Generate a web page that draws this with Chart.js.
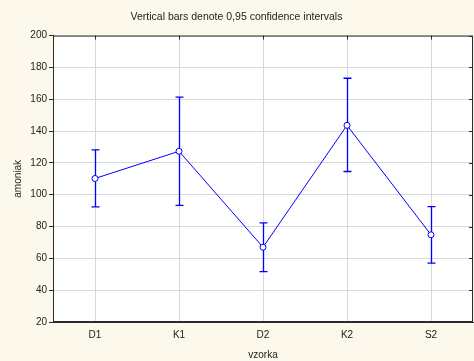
<!DOCTYPE html>
<html>
<head>
<meta charset="utf-8">
<script src="https://cdn.jsdelivr.net/npm/chart.js@4/dist/chart.umd.min.js"></script>
<style>
    html, body { margin: 0; padding: 0; background: #fdf8ec; }
    #wrap { width: 474px; height: 361px; }
</style>
</head>
<body>
<div id="wrap"><canvas id="c"></canvas></div>
<script>
// data
var categories = ['D1', 'K1', 'D2', 'K2', 'S2'];
var means = [110.2, 127.3, 67.0, 143.6, 74.8];
var upper = [128.2, 161.3, 82.3, 173.2, 92.5];
var lower = [92.3, 93.3, 51.6, 114.6, 57.0];
var yTicks = [20, 40, 60, 80, 100, 120, 140, 160, 180, 200];

var blue = '#0000ff';
var frameColor = '#2a2a2a';
var fontFamily = 'Arial, "Liberation Sans", sans-serif';

// fond + zone blanche + cadre
var backgroundPlugin = {
    id: 'bg',
    beforeDraw: function (chart) {
        var ctx = chart.ctx;
        var a = chart.chartArea;
        ctx.save();
        ctx.fillStyle = '#fdf8ec';
        ctx.fillRect(0, 0, chart.width, chart.height);
        ctx.fillStyle = '#ffffff';
        ctx.fillRect(a.left, a.top, a.right - a.left, a.bottom - a.top);
        ctx.restore();
    },
    afterDraw: function (chart) {
        var ctx = chart.ctx;
        var a = chart.chartArea;
        var x = chart.scales.x;
        var y = chart.scales.y;
        var i, p;
        ctx.save();
        ctx.strokeStyle = frameColor;
        ctx.lineWidth = 1;
        ctx.strokeRect(a.left + 0.5, a.top + 0.5, a.right - a.left - 1, a.bottom - a.top - 1);
        // petits traits internes en haut et a droite
        ctx.beginPath();
        for (i = 0; i < categories.length; i++) {
            p = Math.round(x.getPixelForValue(i)) + 0.5;
            ctx.moveTo(p, a.top);
            ctx.lineTo(p, a.top + 4);
        }
        for (i = 0; i < yTicks.length; i++) {
            p = Math.round(y.getPixelForValue(yTicks[i])) + 0.5;
            ctx.moveTo(a.right, p);
            ctx.lineTo(a.right - 4, p);
        }
        ctx.stroke();
        ctx.restore();
    }
};

// barres d'erreur, dessinees via les echelles
var errorBarPlugin = {
    id: 'errorBars',
    beforeDatasetsDraw: function (chart) {
        var ctx = chart.ctx;
        var x = chart.scales.x;
        var y = chart.scales.y;
        ctx.save();
        ctx.strokeStyle = blue;
        ctx.lineWidth = 1.3;
        for (var i = 0; i < categories.length; i++) {
            var px = Math.round(x.getPixelForValue(i)) + 0.5;
            var top = y.getPixelForValue(upper[i]);
            var bot = y.getPixelForValue(lower[i]);
            ctx.beginPath();
            ctx.moveTo(px, top);
            ctx.lineTo(px, bot);
            ctx.moveTo(px - 4, top);
            ctx.lineTo(px + 4, top);
            ctx.moveTo(px - 4, bot);
            ctx.lineTo(px + 4, bot);
            ctx.stroke();
        }
        ctx.restore();
    }
};

new Chart(document.getElementById('c'), {
    type: 'line',
    data: {
        labels: categories,
        datasets: [{
            data: means,
            borderColor: blue,
            borderWidth: 1,
            backgroundColor: '#ffffff',
            pointBorderColor: blue,
            pointBackgroundColor: '#ffffff',
            pointBorderWidth: 1,
            pointRadius: 3,
            tension: 0,
            fill: false
        }]
    },
    plugins: [backgroundPlugin, errorBarPlugin],
    options: {
        responsive: true,
        maintainAspectRatio: false,
        animation: false,
        devicePixelRatio: 1,
        layout: { autoPadding: false, padding: { left: 0, right: 1, top: 0, bottom: 0 } },
        plugins: {
            legend: { display: false },
            tooltip: { enabled: false },
            title: {
                display: true,
                text: 'Vertical bars denote 0,95 confidence intervals',
                color: '#222222',
                font: { family: fontFamily, size: 10.5, weight: 'normal' },
                padding: { top: 11, bottom: 12 }
            }
        },
        scales: {
            x: {
                type: 'category',
                offset: true,
                grid: {
                    color: '#d8d8d8',
                    offset: false,
                    drawTicks: false
                },
                border: { color: frameColor },
                ticks: {
                    color: '#222222',
                    maxRotation: 0,
                    padding: 7,
                    font: { family: fontFamily, size: 10 }
                },
                title: {
                    display: true,
                    text: 'vzorka',
                    color: '#222222',
                    padding: { top: 1, bottom: 0 },
                    font: { family: fontFamily, size: 10 }
                },
                afterFit: function (scale) {
                    scale.height = 39;
                    scale.paddingLeft = 0;
                    scale.paddingRight = 0;
                }
            },
            y: {
                min: 20,
                max: 200,
                afterBuildTicks: function (scale) {
                    scale.ticks = yTicks.map(function (v) { return { value: v }; });
                },
                grid: {
                    color: '#d8d8d8',
                    tickLength: 4,
                    tickColor: frameColor
                },
                border: { color: frameColor },
                ticks: {
                    color: '#222222',
                    padding: 2,
                    font: { family: fontFamily, size: 10 }
                },
                title: {
                    display: true,
                    text: 'amoniak',
                    color: '#222222',
                    padding: { top: 12, bottom: 0 },
                    font: { family: fontFamily, size: 10 }
                },
                afterFit: function (scale) { scale.width = 53; }
            }
        }
    }
});
</script>
</body>
</html>
